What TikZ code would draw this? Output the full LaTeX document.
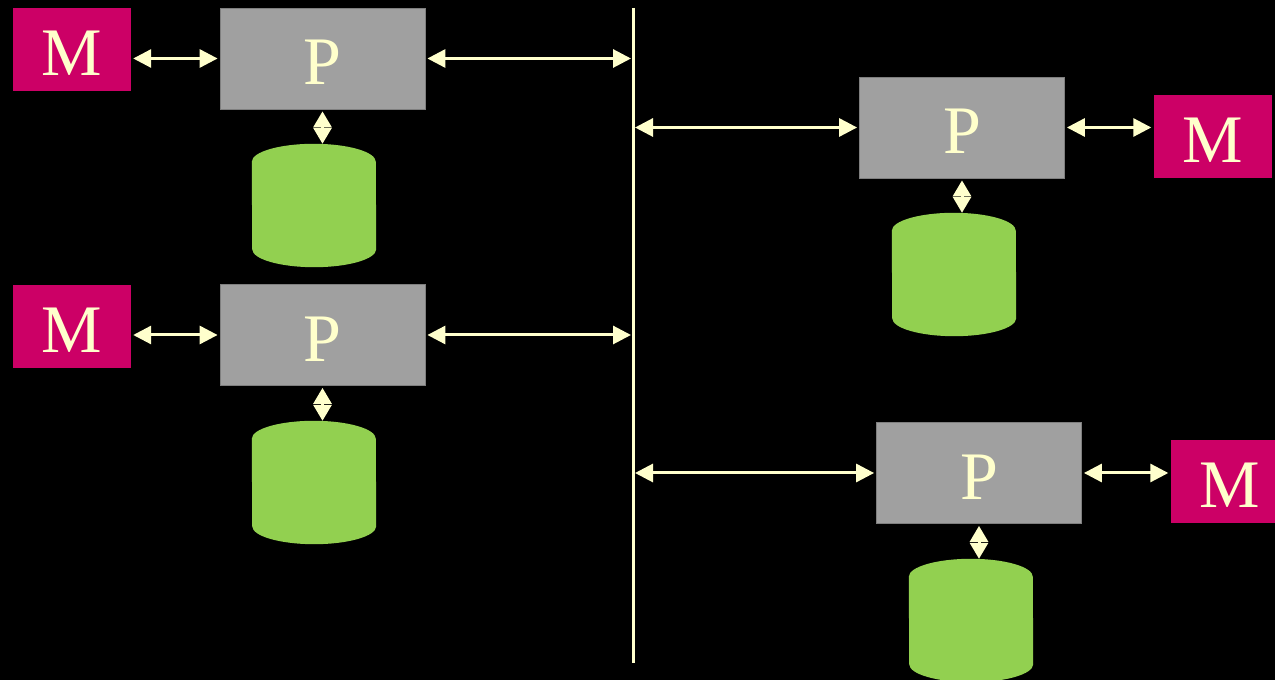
\documentclass[tikz,border=0pt]{standalone}
\usepackage{fontspec}
\setmainfont{Liberation Serif}
\usetikzlibrary{arrows.meta,calc}
\definecolor{memred}{HTML}{CC0066}
\definecolor{procgray}{HTML}{A0A0A0}
\definecolor{procedge}{HTML}{7F7F7F}
\definecolor{dbgreen}{HTML}{92D050}
\definecolor{cream}{HTML}{FFFFCC}
\tikzset{
  membox/.style={fill=memred, minimum width=118pt, minimum height=83pt, inner sep=0pt,
    text=cream, font=\fontsize{68}{68}\selectfont, text height=53pt, text depth=0pt},
  procbox/.style={fill=procgray, draw=procedge, line width=0.8pt, minimum width=205pt, minimum height=101pt,
    inner sep=0pt, text=cream, font=\fontsize{68}{68}\selectfont, text height=53pt, text depth=0pt},
  cylbox/.style={minimum width=124pt, minimum height=123pt, inner sep=0pt},
  link/.style={draw=cream, line width=3pt, {Triangle[length=18pt,width=18pt]}-{Triangle[length=18pt,width=18pt]},
    shorten <=2pt, shorten >=2pt},
  vlink/.style={draw=cream, line width=3pt, {Triangle[length=16pt,width=18pt]}-{Triangle[length=16pt,width=18pt]},
    shorten <=2pt, shorten >=0pt},
  busline/.style={draw=cream, line width=3pt}
}
\newcommand\dbcyl[3]{%
  \node[cylbox] (#1) at (#2,#3) {};
  \fill[dbgreen] ($(#1.north west)+(0,-18)$) arc[start angle=180,end angle=0,x radius=62,y radius=18]
    -- ($(#1.south east)+(0,18)$) arc[start angle=0,end angle=-180,x radius=62,y radius=18] -- cycle;}
\begin{document}
\begin{tikzpicture}[x=1pt,y=1pt]
\useasboundingbox (0,0) rectangle (1275,680);
\fill[black] (0,0) rectangle (1275,680);
% bus
\coordinate (bustop) at (633,672);
\coordinate (busbot) at (633,17);
\draw[busline] (bustop) -- (busbot);
% left upper
\node[membox] (m1) at (72,630.5) {M};
\node[procbox] (p1) at (322.5,621.5) {P};
\dbcyl{c1}{314}{474.5}
% left lower
\node[membox] (m2) at (72,353.5) {M};
\node[procbox] (p2) at (322.5,345) {P};
\dbcyl{c2}{314}{197.5}
% right upper
\node[procbox] (p3) at (962,552.5) {P};
\node[membox] (m3) at (1212.5,543.5) {M};
\dbcyl{c3}{954}{405.5}
% right lower
\node[procbox] (p4) at (979,207) {P};
\node[membox] (m4) at (1229.5,198.5) {M};
\dbcyl{c4}{971}{59.5}
% links
\draw[link] (p1.west -| m1.east) -- (p1.west);
\draw[link] (p1.east) -- (p1.east -| bustop);
\draw[link] (p2.west -| m2.east) -- (p2.west);
\draw[link] (p2.east) -- (p2.east -| bustop);
\draw[link] (p3.west -| bustop) -- (p3.west);
\draw[link] (p3.east) -- (m3.west |- p3.east);
\draw[link] (p4.west -| bustop) -- (p4.west);
\draw[link] (p4.east) -- (m4.west |- p4.east);
\draw[vlink] (p1.south) -- (p1.south |- c1.north);
\draw[vlink] (p2.south) -- (p2.south |- c2.north);
\draw[vlink] (p3.south) -- (p3.south |- c3.north);
\draw[vlink] (p4.south) -- (p4.south |- c4.north);
\end{tikzpicture}
\end{document}
